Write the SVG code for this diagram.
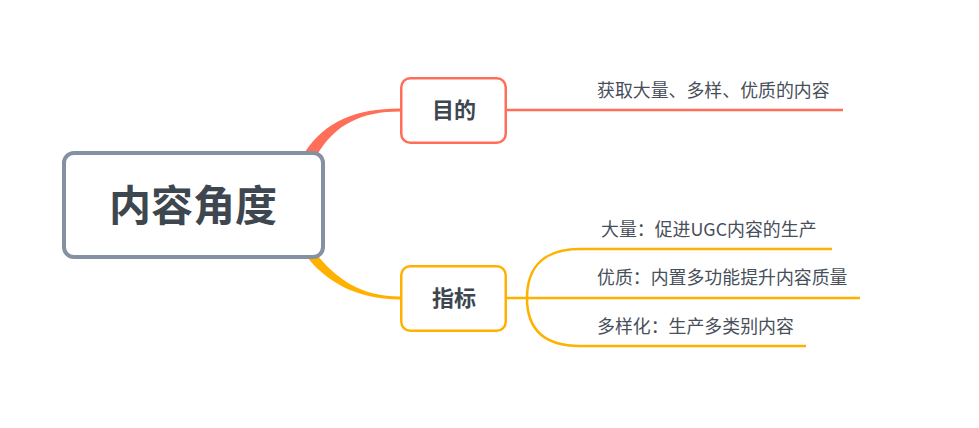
<svg xmlns="http://www.w3.org/2000/svg" width="979" height="428" viewBox="0 0 979 428">
<style>
.t{font-family:"Noto Sans CJK SC","Noto Sans",sans-serif;fill:#474f5a;font-size:17.9px}
.b{font-family:"Noto Sans CJK SC","Noto Sans",sans-serif;fill:#3e4650;font-weight:bold;text-anchor:middle}
.r{stroke:#ff6e59;fill:none}
.y{stroke:#ffb100;fill:none}
</style>
<rect width="979" height="428" fill="#fff"/>
<g id="connectors">
<path d="M305,152 C325,122 355,108.5 400,108.5 L400,111.5 C362,111.5 335,124 317,155 Z" fill="#ff6e59"/>
<path d="M307,257 C325,280 355,299.5 400,299.5 L400,296.5 C362,296.5 338,280 318,256 Z" fill="#ffb100"/>
<path class="r" stroke-width="2.5" d="M507,110 H843"/>
<path class="y" stroke-width="2.5" d="M507,298 H860"/>
<path class="y" stroke-width="2.5" d="M527,298 C527,265 546,249 580,249 H832"/>
<path class="y" stroke-width="2.5" d="M527,298 C527,331 546,346 580,346 H806"/>
</g>
<g id="root">
<rect x="64" y="153" width="259" height="104" rx="10" fill="#fff" stroke="#8491a3" stroke-width="4"/>
<text class="b" x="193" y="220.5" font-size="42">内容角度</text>
</g>
<g id="mudi">
<rect x="401.25" y="78.25" width="104.5" height="64.5" rx="9" class="r" stroke-width="2.5" style="fill:#fff"/>
<text class="b" x="454" y="118" font-size="22">目的</text>
</g>
<g id="zhibiao">
<rect x="401.25" y="266.25" width="104.5" height="64.5" rx="9" class="y" stroke-width="2.5" style="fill:#fff"/>
<text class="b" x="454" y="306" font-size="22">指标</text>
</g>
<g id="leaf1"><text class="t" x="597" y="97">获取大量、多样、优质的内容</text></g>
<g id="leaf2"><text class="t" x="601" y="236">大量：促进UGC内容的生产</text></g>
<g id="leaf3"><text class="t" x="597" y="284">优质：内置多功能提升内容质量</text></g>
<g id="leaf4"><text class="t" x="597" y="333">多样化：生产多类别内容</text></g>
</svg>
